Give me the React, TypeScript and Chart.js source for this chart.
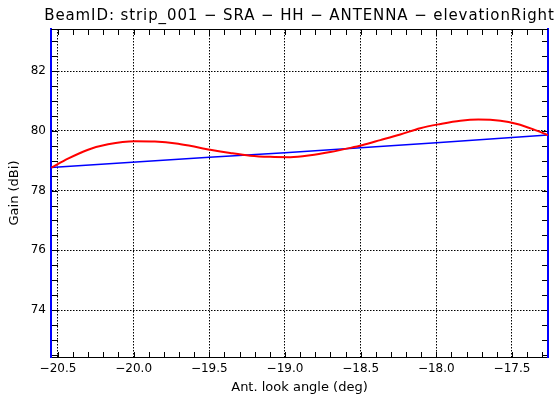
import React, { useEffect, useRef } from "react";
import { Chart, registerables } from "chart.js";

Chart.register(...registerables);

const TITLE = "BeamID: strip_001 \u2212 SRA \u2212 HH \u2212 ANTENNA \u2212 elevationRight";
const X_LABEL = "Ant. look angle (deg)";
const Y_LABEL = "Gain (dBi)";

const X_MIN = -20.546;
const X_MAX = -17.262;
const Y_MIN = 72.43;
const Y_MAX = 83.41;
const X_MAJOR = 0.5;
const X_MINOR = 0.1;
const Y_MAJOR = 2;
const Y_MINOR = 0.5;

const angleRed = [
  -20.544, -20.434, -20.301, -20.169, -19.992, -19.86, -19.719, -19.627, -19.494,
  -19.362, -19.23, -19.098, -18.965, -18.833, -18.701, -18.568, -18.491, -18.37,
  -18.238, -18.106, -17.973, -17.841, -17.722, -17.576, -17.466, -17.358, -17.262,
];
const gainRed = [
  78.77, 79.07, 79.37, 79.55, 79.65, 79.64, 79.58, 79.5, 79.37,
  79.26, 79.17, 79.13, 79.12, 79.18, 79.29, 79.43, 79.52, 79.69,
  79.88, 80.09, 80.23, 80.34, 80.38, 80.34, 80.23, 80.05, 79.86,
];

const angleBlue = [-20.546, -19.5, -19.0, -18.0, -17.262];
const gainBlue = [78.77, 79.12, 79.27, 79.6, 79.86];

const FONT = "'DejaVu Sans', sans-serif";

const framePlugin = {
  id: "frame",
  afterDatasetsDraw(chart: any) {
    const { ctx, chartArea: a, scales } = chart;
    const xs = scales.x;
    const ys = scales.y;
    ctx.save();
    ctx.strokeStyle = "#000";
    ctx.lineWidth = 1;
    ctx.beginPath();
    const topY = Math.round(a.top) + 0.5;
    ctx.moveTo(a.left, topY);
    ctx.lineTo(a.right, topY);
    for (let k = Math.ceil(X_MIN / X_MINOR - 1e-9); k * X_MINOR <= X_MAX + 1e-9; k++) {
      const px = Math.round(xs.getPixelForValue(k * X_MINOR)) + 0.5;
      ctx.moveTo(px, a.bottom);
      ctx.lineTo(px, a.bottom - 5);
      ctx.moveTo(px, a.top);
      ctx.lineTo(px, a.top + 6);
    }
    for (let k = Math.ceil(Y_MIN / Y_MINOR - 1e-9); k * Y_MINOR <= Y_MAX + 1e-9; k++) {
      const py = Math.round(ys.getPixelForValue(k * Y_MINOR)) + 0.5;
      ctx.moveTo(a.left + 1, py);
      ctx.lineTo(a.left + 7, py);
      ctx.moveTo(a.right - 1, py);
      ctx.lineTo(a.right - 6, py);
    }
    ctx.stroke();
    ctx.restore();
  },
  afterDraw(chart: any) {
    const { ctx, chartArea: a } = chart;
    ctx.save();
    ctx.fillStyle = "#000";
    ctx.font = `15px ${FONT}`;
    try {
      (ctx as any).letterSpacing = "0.9px";
    } catch (e) {}
    ctx.textAlign = "center";
    ctx.textBaseline = "alphabetic";
    ctx.fillText(TITLE, (a.left + a.right) / 2, 20);
    ctx.restore();
  },
};

export default function App() {
  const ref = useRef<HTMLCanvasElement>(null);

  useEffect(() => {
    if (!ref.current) return;
    const chart = new Chart(ref.current, {
      type: "line",
      data: {
        datasets: [
          {
            label: "red",
            data: angleRed.map((x, i) => ({ x, y: gainRed[i] })),
            borderColor: "#ff0000",
            borderWidth: 2,
            pointRadius: 0,
            cubicInterpolationMode: "monotone",
          },
          {
            label: "blue",
            data: angleBlue.map((x, i) => ({ x, y: gainBlue[i] })),
            borderColor: "#0000ff",
            borderWidth: 1.5,
            pointRadius: 0,
          },
        ],
      },
      options: {
        responsive: false,
        animation: false,
        events: [],
        layout: { padding: { top: 29, left: 0, right: 0, bottom: 0 } },
        plugins: {
          legend: { display: false },
          tooltip: { enabled: false },
          title: { display: false },
        },
        scales: {
          x: {
            type: "linear",
            position: "bottom",
            min: X_MIN,
            max: X_MAX,
            afterFit: (s: any) => {
              s.height = 39;
            },
            ticks: {
              stepSize: X_MAJOR,
              includeBounds: false,
              padding: 5,
              color: "#000",
              maxRotation: 0,
              autoSkip: false,
              font: { family: FONT, size: 12 },
              callback: (v: any) => Number(v).toFixed(1).replace("-", "\u2212"),
            },
            grid: { color: "#000", lineWidth: 1, drawTicks: false },
            border: { color: "#000", width: 1, dash: [1.5, 1.5] },
            title: {
              display: true,
              text: X_LABEL,
              color: "#000",
              font: { family: FONT, size: 13 },
              padding: { top: 0, bottom: 1 },
            },
          },
          y: {
            type: "linear",
            position: "left",
            min: Y_MIN,
            max: Y_MAX,
            afterFit: (s: any) => {
              s.width = 51;
            },
            ticks: {
              stepSize: Y_MAJOR,
              includeBounds: false,
              padding: 5,
              color: "#000",
              font: { family: FONT, size: 12 },
              callback: (v: any) => String(v),
            },
            grid: { color: "#000", lineWidth: 1, drawTicks: false },
            border: { color: "#0000ff", width: 2, dash: [1.5, 1.5] },
            title: {
              display: true,
              text: Y_LABEL,
              color: "#000",
              font: { family: FONT, size: 13 },
              padding: { top: 7, bottom: 0 },
            },
          },
          y2: {
            type: "linear",
            position: "right",
            min: Y_MIN,
            max: Y_MAX,
            afterFit: (s: any) => {
              s.width = 10;
            },
            ticks: { display: false },
            grid: { color: "rgba(0,0,0,0)", drawTicks: false, drawOnChartArea: false },
            border: { color: "#0000ff", width: 2 },
          },
        },
      },
      plugins: [framePlugin],
    } as any);
    return () => chart.destroy();
  }, []);

  return (
    <div style={{ position: "absolute", left: 0, top: 0, width: 558, height: 396, background: "#fff" }}>
      <canvas ref={ref} width={558} height={396} style={{ display: "block" }} />
    </div>
  );
}
